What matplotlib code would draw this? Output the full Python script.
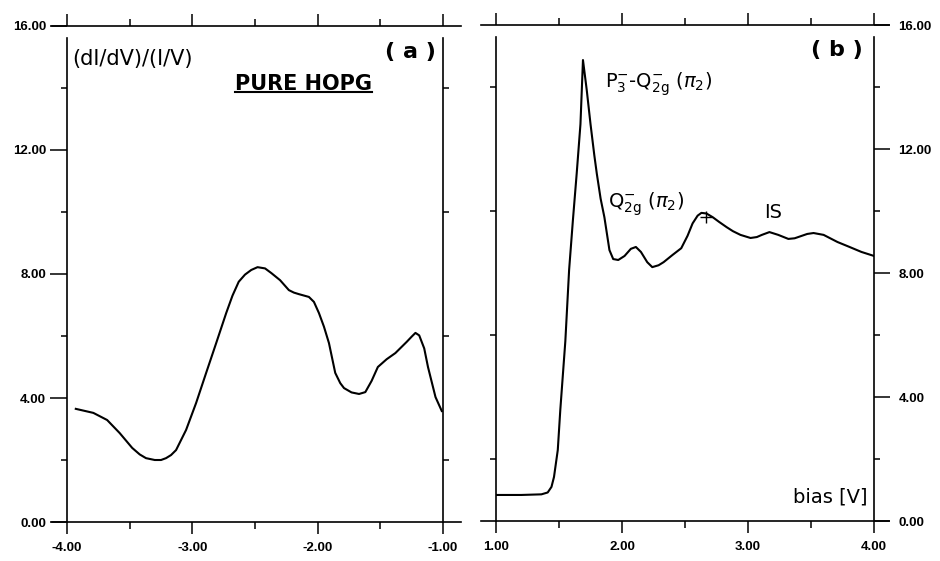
import matplotlib
matplotlib.use("Agg")
import matplotlib.pyplot as plt
from matplotlib.ticker import MultipleLocator, FormatStrFormatter
from matplotlib.lines import Line2D

plt.rcParams['axes.unicode_minus'] = False
plt.rcParams['font.family'] = ['DejaVu Sans']
plt.rcParams['mathtext.fontset'] = 'dejavusans'

# (a) pure HOPG, negative bias
bias_a = [-3.93, -3.79, -3.68, -3.58, -3.48, -3.42, -3.37, -3.30, -3.25, -3.21,
          -3.17, -3.13, -3.05, -2.97, -2.89, -2.81, -2.73, -2.68, -2.63, -2.58,
          -2.53, -2.48, -2.42, -2.37, -2.30, -2.23, -2.19, -2.15, -2.07, -2.03,
          -1.99, -1.95, -1.91, -1.86, -1.82, -1.79, -1.73, -1.67, -1.62, -1.57,
          -1.52, -1.45, -1.38, -1.29, -1.25, -1.22, -1.19, -1.15, -1.12, -1.06,
          -1.01]
dos_a = [3.65, 3.52, 3.29, 2.87, 2.39, 2.18, 2.06, 2.00, 2.00, 2.06,
         2.16, 2.32, 2.97, 3.84, 4.81, 5.77, 6.74, 7.30, 7.75, 7.98,
         8.13, 8.22, 8.18, 8.03, 7.80, 7.48, 7.40, 7.35, 7.26, 7.10,
         6.74, 6.30, 5.77, 4.81, 4.48, 4.32, 4.18, 4.13, 4.19, 4.55,
         5.00, 5.25, 5.45, 5.81, 5.98, 6.10, 6.02, 5.60, 5.00, 4.03,
         3.58]

# (b) positive bias
bias_b = [1.00, 1.20, 1.36, 1.41, 1.44, 1.46, 1.49, 1.51, 1.55, 1.58,
          1.61, 1.64, 1.67, 1.69, 1.72, 1.75, 1.78, 1.80, 1.83, 1.86,
          1.90, 1.93, 1.97, 2.02, 2.07, 2.11, 2.15, 2.20, 2.24, 2.29,
          2.33, 2.40, 2.47, 2.52, 2.56, 2.60, 2.63, 2.67, 2.72, 2.77,
          2.83, 2.88, 2.94, 3.02, 3.07, 3.11, 3.17, 3.24, 3.32, 3.37,
          3.42, 3.47, 3.52, 3.60, 3.71, 3.80, 3.90, 4.00]
dos_b = [0.84, 0.84, 0.86, 0.92, 1.10, 1.42, 2.29, 3.58, 5.80, 8.10,
         9.70, 11.20, 12.80, 14.87, 13.90, 12.80, 11.80, 11.20, 10.40, 9.80,
         8.74, 8.45, 8.42, 8.55, 8.78, 8.84, 8.68, 8.35, 8.19, 8.25,
         8.35, 8.58, 8.80, 9.20, 9.60, 9.85, 9.94, 9.92, 9.80, 9.65,
         9.48, 9.35, 9.23, 9.13, 9.16, 9.23, 9.32, 9.23, 9.10, 9.12,
         9.19, 9.26, 9.29, 9.23, 9.00, 8.85, 8.68, 8.55]

cross_b = (2.67, 9.8)

fig = plt.figure(figsize=(9.4, 5.61), dpi=100)
ax1 = fig.add_axes([0.0713, 0.0695, 0.4000, 0.8842])
ax2 = fig.add_axes([0.5277, 0.0713, 0.4021, 0.8841])

tick_font = {'family': 'Liberation Sans', 'weight': 'bold', 'size': 9.5}


def style_axes(ax, xlo, xhi, xext, label_side):
    ax.set_xlim(xlo, xhi)
    ax.set_ylim(0, 16)
    ax.xaxis.set_major_locator(MultipleLocator(1))
    ax.xaxis.set_minor_locator(MultipleLocator(0.5))
    ax.yaxis.set_major_locator(MultipleLocator(4))
    ax.yaxis.set_minor_locator(MultipleLocator(2))
    ax.xaxis.set_major_formatter(FormatStrFormatter('%.2f'))
    ax.yaxis.set_major_formatter(FormatStrFormatter('%.2f'))
    for s in ax.spines.values():
        s.set_linewidth(1.2)
    ax.spines['bottom'].set_bounds(*xext)
    ax.spines['top'].set_bounds(*xext)
    ax.spines['left'].set_bounds(0, 15.6)
    ax.spines['right'].set_bounds(0, 15.6)
    ax.tick_params(axis='x', which='both', direction='out', top=True, bottom=True, width=1.1)
    ax.tick_params(axis='x', which='major', length=8.5, pad=6)
    ax.tick_params(axis='x', which='minor', length=5)
    ax.tick_params(axis='y', which='minor', direction='out', left=True, right=True,
                   length=4.5, width=1.1)
    if label_side == 'left':
        ax.tick_params(axis='y', which='major', direction='out', left=True, right=False,
                       length=12, width=1.1, pad=3, labelleft=True, labelright=False)
    else:
        ax.tick_params(axis='y', which='major', direction='out', left=False, right=True,
                       length=11.5, width=1.1, pad=6, labelleft=False, labelright=True)
    for lab in ax.get_xticklabels() + ax.get_yticklabels():
        lab.set_fontfamily(tick_font['family'])
        lab.set_fontweight(tick_font['weight'])
        lab.set_fontsize(tick_font['size'])


style_axes(ax1, -4, -1, (-4.12, -0.86), 'left')
style_axes(ax2, 1, 4, (0.88, 4.12), 'right')

ax1.plot(bias_a, dos_a, color='black', lw=1.5)
ax2.plot(bias_b, dos_b, color='black', lw=1.5)
ax2.plot([cross_b[0]], [cross_b[1]], marker='+', ms=9, mew=1.0, color='black')

# panel (a) texts
ax1.text(-3.96, 14.74, '(dI/dV)/(I/V)', fontsize=15, va='baseline', ha='left')
ax1.text(-1.06, 15.16, '( a )', fontsize=16, fontweight='bold', va='center', ha='right')
hopg = ax1.text(-2.66, 13.94, 'PURE HOPG', fontsize=15, fontweight='bold',
                va='baseline', ha='left')

# panel (b) texts
ax2.text(3.91, 15.19, '( b )', fontsize=16, fontweight='bold', va='center', ha='right')
ax2.text(1.865, 14.0, r'P$_3^{-}$-Q$_{\mathrm{2g}}^{-}$ ($\pi_2$)', fontsize=14,
         va='baseline', ha='left')
ax2.text(1.89, 10.1, r'Q$_{\mathrm{2g}}^{-}$ ($\pi_2$)', fontsize=14, va='baseline', ha='left')
ax2.text(3.13, 9.77, 'IS', fontsize=14, va='baseline', ha='left')
ax2.text(3.36, 0.61, 'bias [V]', fontsize=14, va='baseline', ha='left')

# underline for PURE HOPG
fig.canvas.draw()
bb = hopg.get_window_extent().transformed(fig.transFigure.inverted())
uy = bb.y0 + 0.004
fig.add_artist(Line2D([bb.x0, bb.x1], [uy, uy], color='black', lw=1.5,
                      transform=fig.transFigure))

fig.savefig('out.png', dpi=100)
